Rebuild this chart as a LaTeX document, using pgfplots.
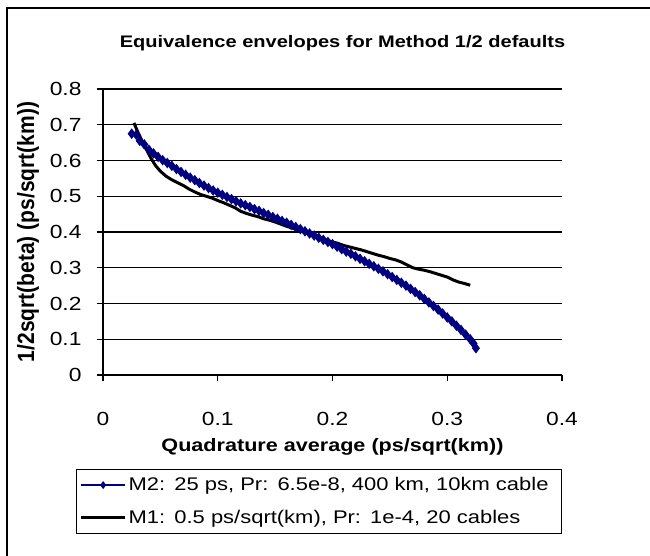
\documentclass[border=0pt]{standalone}
\usepackage{pgfplots}
\pgfplotsset{compat=1.18}
\usepackage{fontspec}
\setmainfont{Liberation Sans}[FakeStretch=1.2]
\newfontfamily\ylabfont{Liberation Sans}
\definecolor{navy}{RGB}{0,0,128}
\begin{document}
\begin{tikzpicture}[x=1pt,y=1pt]
\useasboundingbox (-103,-180) rectangle (547,375);
\draw[line width=1.5pt] (-96,-190) -- (-96,367) -- (560,367);
\begin{axis}[
  at={(0,0)}, anchor=south west,
  width=459pt, height=286pt, scale only axis,
  xmin=0, xmax=0.4, ymin=0, ymax=0.8,
  xtick={0,0.1,...,0.4}, ytick={0,0.1,...,0.8},
  xticklabels={0,0.1,0.2,0.3,0.4},
  yticklabels={0,0.1,0.2,0.3,0.4,0.5,0.6,0.7,0.8},
  ymajorgrids, grid style={black, line width=1.3pt},
  axis line style={line width=1.6pt},
  axis x line*=bottom, axis y line*=left,
  tick style={black, line width=1.3pt},
  tick align=outside, major tick length=6pt,
  ticklabel style={font=\fontsize{19}{19}\selectfont},
  xticklabel style={anchor=base, yshift=-44pt},
  yticklabel style={anchor=east, xshift=-12pt},
  every axis x label/.style={at={(axis description cs:0.5,0)}, anchor=center, yshift=-72pt},
  every axis y label/.style={at={(axis description cs:-0.1634,0.5)}, rotate=90, anchor=center},
  xlabel={\fontsize{18}{18}\selectfont\bfseries Quadrature average (ps/sqrt(km))},
  ylabel={\scalebox{1}[1.12]{\ylabfont\fontsize{21}{21}\selectfont\bfseries 1/2sqrt(beta) (ps/sqrt(km))}},
  every axis title/.style={at={(axis description cs:0.5,1)}, anchor=center, yshift=46pt, xshift=10pt},
  title={\fontsize{16.7}{17}\selectfont\bfseries Equivalence envelopes for Method 1/2 defaults},
  legend style={at={(-0.0588,-0.3287)}, anchor=north west, draw=black, line width=1.3pt,
    font=\fontsize{18.3}{19}\selectfont, legend cell align=left, row sep=14pt,
    inner xsep=3pt, inner ysep=6pt, text width=428pt},
  legend image code/.code={\draw[#1, mark size=3pt, mark repeat=2, mark phase=2] plot coordinates {(0pt,0pt) (22pt,0pt) (44pt,0pt)};},
  clip=false,
]
\addplot[navy, line width=1pt, mark=diamond*, mark size=4.5pt, mark options={solid, fill=navy, draw=navy},
  legend image post style={line width=1.2pt}] coordinates {
(0.025,0.675)(0.029,0.672)(0.032,0.655)(0.036,0.645)(0.040,0.630)(0.044,0.620)
(0.048,0.610)(0.052,0.601)(0.056,0.593)(0.060,0.585)(0.064,0.576)(0.068,0.568)
(0.072,0.560)(0.076,0.552)(0.080,0.545)(0.084,0.537)(0.088,0.530)(0.092,0.523)
(0.096,0.516)(0.100,0.510)(0.104,0.504)(0.108,0.498)(0.112,0.492)(0.116,0.486)
(0.120,0.480)(0.124,0.475)(0.128,0.470)(0.132,0.464)(0.136,0.459)(0.140,0.453)
(0.144,0.448)(0.148,0.442)(0.152,0.437)(0.156,0.431)(0.160,0.426)(0.164,0.420)
(0.168,0.414)(0.172,0.408)(0.176,0.402)(0.180,0.396)(0.184,0.390)(0.188,0.384)
(0.192,0.378)(0.196,0.372)(0.200,0.366)(0.204,0.359)(0.208,0.352)(0.212,0.345)
(0.216,0.339)(0.220,0.332)(0.224,0.325)(0.228,0.318)(0.232,0.311)(0.236,0.304)
(0.240,0.297)(0.244,0.290)(0.248,0.282)(0.252,0.274)(0.256,0.266)(0.260,0.258)
(0.264,0.250)(0.268,0.241)(0.272,0.232)(0.276,0.223)(0.280,0.213)(0.284,0.203)
(0.288,0.193)(0.292,0.183)(0.296,0.172)(0.300,0.161)(0.304,0.150)(0.308,0.138)
(0.312,0.126)(0.316,0.113)(0.320,0.100)(0.323,0.088)(0.325,0.075)
};
\addlegendentry{M2: 25 ps, Pr: 6.5e-8, 400 km, 10km cable}
\addplot[black, line width=3pt, no markers, legend image post style={line width=3pt}] coordinates {
(0.027,0.705)(0.030,0.682)(0.034,0.655)(0.038,0.630)(0.042,0.605)(0.046,0.585)
(0.050,0.570)(0.055,0.556)(0.060,0.546)(0.065,0.538)(0.070,0.530)(0.075,0.520)
(0.080,0.512)(0.085,0.505)(0.090,0.500)(0.095,0.495)(0.100,0.488)(0.105,0.482)
(0.110,0.475)(0.115,0.468)(0.120,0.458)(0.125,0.452)(0.130,0.447)(0.135,0.443)
(0.140,0.437)(0.145,0.433)(0.150,0.428)(0.155,0.422)(0.160,0.416)(0.165,0.411)
(0.170,0.405)(0.175,0.400)(0.180,0.395)(0.185,0.389)(0.190,0.382)(0.195,0.377)
(0.200,0.372)(0.205,0.368)(0.210,0.362)(0.215,0.358)(0.220,0.354)(0.225,0.350)
(0.230,0.345)(0.235,0.340)(0.240,0.335)(0.245,0.331)(0.250,0.326)(0.255,0.322)
(0.260,0.316)(0.265,0.308)(0.270,0.300)(0.275,0.296)(0.280,0.293)(0.285,0.289)
(0.290,0.284)(0.295,0.279)(0.300,0.274)(0.305,0.266)(0.310,0.260)(0.315,0.256)
(0.320,0.251)
};
\addlegendentry{M1: 0.5 ps/sqrt(km), Pr: 1e-4, 20 cables}
\end{axis}
\end{tikzpicture}
\end{document}
